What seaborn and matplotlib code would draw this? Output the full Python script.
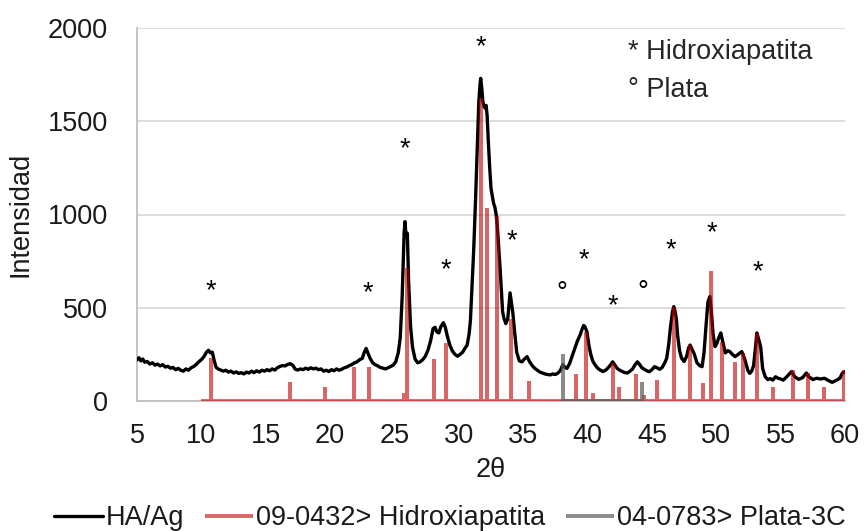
import numpy as np
import pandas as pd
import matplotlib
matplotlib.use("Agg")
import matplotlib.pyplot as plt
import seaborn as sns

# ---- data ----
scan_2theta = [5.0, 5.15, 5.3, 5.45, 5.6, 5.8, 6.0, 6.2, 6.4, 6.6, 6.8, 7.0, 7.2, 7.4, 7.6, 7.8,
               8.0, 8.2, 8.4, 8.6, 8.8, 9.0, 9.2, 9.4, 9.6, 9.8, 10.0, 10.2, 10.4, 10.55, 10.7,
               10.85, 11.0, 11.15, 11.3, 11.5, 11.7, 11.9, 12.1, 12.3, 12.5, 12.7, 12.9, 13.1,
               13.3, 13.5, 13.7, 13.9, 14.1, 14.3, 14.5, 14.7, 14.9, 15.1, 15.3, 15.5, 15.7,
               15.9, 16.1, 16.3, 16.5, 16.7, 16.9, 17.1, 17.3, 17.5, 17.7, 17.9, 18.1, 18.3,
               18.5, 18.7, 18.9, 19.1, 19.3, 19.5, 19.7, 19.9, 20.1, 20.3, 20.5, 20.7, 20.9,
               21.1, 21.3, 21.5, 21.7, 21.9, 22.1, 22.3, 22.5, 22.65, 22.8, 22.95, 23.1, 23.3,
               23.5, 23.7, 23.9, 24.1, 24.3, 24.5, 24.7, 24.9, 25.1, 25.3, 25.45, 25.6, 25.75,
               25.82, 25.9, 26.0, 26.1, 26.25, 26.4, 26.6, 26.8, 27.0, 27.2, 27.4, 27.6, 27.8,
               28.0, 28.15, 28.3, 28.45, 28.6, 28.8, 28.95, 29.1, 29.3, 29.5, 29.7, 29.9, 30.1,
               30.3, 30.5, 30.65, 30.8, 30.9, 31.0, 31.15, 31.3, 31.45, 31.55, 31.65, 31.7,
               31.78, 31.86, 31.95, 32.05, 32.12, 32.2, 32.3, 32.4, 32.5, 32.6, 32.7, 32.8,
               32.9, 33.0, 33.1, 33.2, 33.3, 33.4, 33.5, 33.65, 33.8, 33.9, 33.98, 34.1, 34.2,
               34.35, 34.5, 34.7, 34.9, 35.1, 35.3, 35.5, 35.7, 35.9, 36.1, 36.3, 36.5, 36.7,
               36.9, 37.1, 37.3, 37.5, 37.7, 37.9, 38.08, 38.25, 38.4, 38.6, 38.8, 39.0, 39.2,
               39.4, 39.55, 39.7, 39.8, 39.95, 40.1, 40.25, 40.4, 40.6, 40.8, 41.0, 41.2, 41.4,
               41.6, 41.8, 41.95, 42.1, 42.3, 42.5, 42.7, 42.9, 43.1, 43.3, 43.5, 43.7, 43.87,
               44.0, 44.2, 44.4, 44.6, 44.8, 45.0, 45.2, 45.4, 45.6, 45.8, 46.0, 46.15, 46.3,
               46.45, 46.6, 46.7, 46.8, 46.9, 47.0, 47.15, 47.3, 47.5, 47.7, 47.85, 47.97, 48.1,
               48.3, 48.5, 48.7, 48.9, 49.05, 49.2, 49.35, 49.5, 49.62, 49.75, 49.9, 50.05,
               50.2, 50.35, 50.5, 50.7, 50.9, 51.07, 51.25, 51.46, 51.7, 51.98, 52.1, 52.25,
               52.45, 52.6, 52.75, 52.9, 53.05, 53.15, 53.3, 53.45, 53.6, 53.8, 54.0, 54.2,
               54.4, 54.6, 54.8, 55.0, 55.2, 55.4, 55.6, 55.85, 56.1, 56.4, 56.7, 57.0, 57.2,
               57.5, 57.8, 58.1, 58.4, 58.7, 59.0, 59.3, 59.6, 59.8, 60.0]
scan_intensity = [220, 232, 215, 225, 208, 212, 198, 205, 192, 198, 188, 195, 182, 186, 176, 180,
                  168, 175, 165, 160, 172, 165, 178, 185, 196, 210, 222, 238, 262, 272, 258,
                  262, 215, 180, 172, 166, 160, 165, 155, 160, 150, 156, 148, 152,
                  145, 155, 150, 160, 152, 162, 155, 165, 160, 168, 162, 172, 166,
                  178, 185, 190, 188, 196, 200, 192, 170, 166, 172, 168, 176, 170,
                  178, 172, 176, 168, 172, 160, 165, 158, 168, 162, 172, 165, 170,
                  178, 182, 190, 196, 205, 210, 222, 228, 260, 282, 255, 230, 205,
                  195, 188, 180, 176, 172, 178, 185, 192, 210, 260, 340, 560, 900,
                  962, 880, 900, 640, 400, 290, 225, 205, 210, 222, 240, 272, 320,
                  388, 395, 370, 365, 398, 420, 395, 350, 300, 268, 250, 240, 250,
                  262, 285, 300, 360, 430, 580, 800, 1080, 1400, 1600, 1700, 1730,
                  1680, 1610, 1580, 1570, 1585, 1530, 1380, 1250, 1140, 1100, 1060, 1040,
                  1000, 930, 820, 720, 600, 480, 445, 415, 440, 520, 580, 520, 470,
                  360, 260, 215, 210, 225, 238, 210, 190, 175, 165, 155, 150, 145,
                  142, 140, 145, 142, 150, 165, 195, 180, 175, 200, 240, 280, 320,
                  350, 380, 405, 398, 372, 300, 250, 215, 192, 175, 165, 158, 165,
                  178, 195, 210, 195, 175, 165, 158, 152, 150, 160, 172, 195, 210,
                  200, 180, 170, 162, 157, 168, 184, 178, 170, 180, 205, 230, 300,
                  400, 480, 506, 480, 440, 350, 270, 230, 212, 240, 285, 300, 280,
                  250, 205, 190, 184, 260, 400, 530, 560, 480, 360, 292, 310,
                  340, 365, 320, 258, 270, 264, 250, 238, 250, 265, 245, 215,
                  165, 148, 160, 190, 290, 365, 330, 290, 175, 130, 115, 120,
                  112, 130, 122, 118, 112, 125, 140, 158, 130, 116, 125, 150, 130,
                  115, 122, 118, 122, 110, 100, 110, 122, 150, 158]

ha_ref_2theta = [10.73, 16.91, 19.6, 21.86, 23.05, 25.72, 25.95, 28.08, 29.01, 31.73, 32.22,
                 33.0, 34.04, 35.46, 39.09, 39.86, 40.4, 41.98, 42.43, 43.77, 44.39, 45.38,
                 46.75, 47.97, 49.0, 49.58, 50.43, 51.46, 52.11, 53.2, 54.44, 55.95, 57.11,
                 58.38, 59.96]
ha_ref_intensity = [230, 100, 73, 184, 184, 45, 711, 224, 313, 1623, 1033,
                    992, 440, 109, 143, 372, 45, 202, 73, 143, 32, 113,
                    506, 300, 98, 699, 315, 211, 259, 363, 77, 166, 152,
                    77, 166]
ha_ref_start = 10.0

ag_ref_2theta = [38.08, 44.21]
ag_ref_intensity = [250, 100]

ha_marks_2theta = [10.7, 22.9, 25.8, 29.0, 31.73, 34.14, 39.73, 41.98, 46.5, 49.68, 53.25]
ha_marks_y = [633, 622, 1394, 745, 1941, 901, 799, 552, 853, 944, 735]
ag_marks_2theta = [38.02, 44.3]
ag_marks_y = [627, 633]

x_ticks = [5, 10, 15, 20, 25, 30, 35, 40, 45, 50, 55, 60]
y_ticks = [0, 500, 1000, 1500, 2000]

labels = ["HA/Ag", "09-0432> Hidroxiapatita", "04-0783> Plata-3C"]


def stick_path(start, pos, heights):
    xs, ys = [start], [0]
    for p, h in zip(pos, heights):
        xs += [p, p, p]
        ys += [0, h, 0]
    return xs, ys


sns.set_theme(style="white")
plt.rcParams["font.family"] = ["Liberation Sans", "DejaVu Sans"]

FS = 19.5
fig = plt.figure(figsize=(8.64, 5.31), dpi=100)
ax = fig.add_axes([137 / 864, 1 - 401 / 531, 708 / 864, 373 / 531])

df_scan = pd.DataFrame({"x": scan_2theta, "y": scan_intensity})
sns.lineplot(data=df_scan, x="x", y="y", ax=ax, color="black", lw=2.4,
             sort=False, estimator=None, label=labels[0], zorder=3)

hx, hy = stick_path(ha_ref_start, ha_ref_2theta, ha_ref_intensity)
hx += [60.0]
hy += [0]
df_ha = pd.DataFrame({"x": hx, "y": hy})
sns.lineplot(data=df_ha, x="x", y="y", ax=ax, color="#C00000", alpha=0.6, lw=2.8,
             sort=False, estimator=None, label=labels[1], zorder=4,
             solid_joinstyle="bevel", solid_capstyle="butt")

ax_x, ax_y = stick_path(ag_ref_2theta[0], ag_ref_2theta, ag_ref_intensity)
df_ag = pd.DataFrame({"x": ax_x, "y": ax_y})
sns.lineplot(data=df_ag, x="x", y="y", ax=ax, color="#5A5A5A", alpha=0.7, lw=2.8,
             sort=False, estimator=None, label=labels[2], zorder=5,
             solid_joinstyle="bevel", solid_capstyle="butt")

for xv, yv in zip(ha_marks_2theta, ha_marks_y):
    ax.annotate("*", xy=(xv, yv), xytext=(0, -11), textcoords="offset points",
                ha="center", va="baseline", fontsize=FS, color="black", zorder=6)
for xv, yv in zip(ag_marks_2theta, ag_marks_y):
    ax.annotate("°", xy=(xv, yv), xytext=(0, -12), textcoords="offset points",
                ha="center", va="baseline", fontsize=FS, color="black", zorder=6)

ax.text(43.15, 1834, "* Hidroxiapatita", fontsize=FS, ha="left", va="baseline")
ax.text(43.15, 1630, "° Plata", fontsize=FS, ha="left", va="baseline")

ax.set_xlim(5, 60)
ax.set_ylim(0, 2000)
ax.set_xticks(x_ticks)
ax.set_yticks(y_ticks)
ax.tick_params(axis="both", length=0, labelsize=FS, colors="#1a1a1a")
ax.tick_params(axis="x", pad=16)
ax.tick_params(axis="y", pad=21)
ax.yaxis.grid(True, color="#D9D9D9", lw=1.3)
ax.xaxis.grid(False)
ax.set_axisbelow(True)
for s in ["top", "right"]:
    ax.spines[s].set_visible(False)
for s in ["left", "bottom"]:
    ax.spines[s].set_color("#BFBFBF")
    ax.spines[s].set_linewidth(1.3)

ax.set_xlabel("2θ", fontsize=FS, color="#1a1a1a")
ax.set_ylabel("Intensidad", fontsize=FS, color="#1a1a1a")
ax.xaxis.set_label_coords(0.5, -0.150)
ax.yaxis.set_label_coords(-0.146, 0.5)

handles, labs = ax.get_legend_handles_labels()
ax.legend_.remove()
fig.legend(handles, labs, loc="center", bbox_to_anchor=(450 / 864, 1 - 518 / 531),
           ncol=3, frameon=False, fontsize=FS, handlelength=1.8, handletextpad=0.1,
           columnspacing=0.75, borderpad=0, labelcolor="#1a1a1a")

fig.savefig("out.png", dpi=100)
